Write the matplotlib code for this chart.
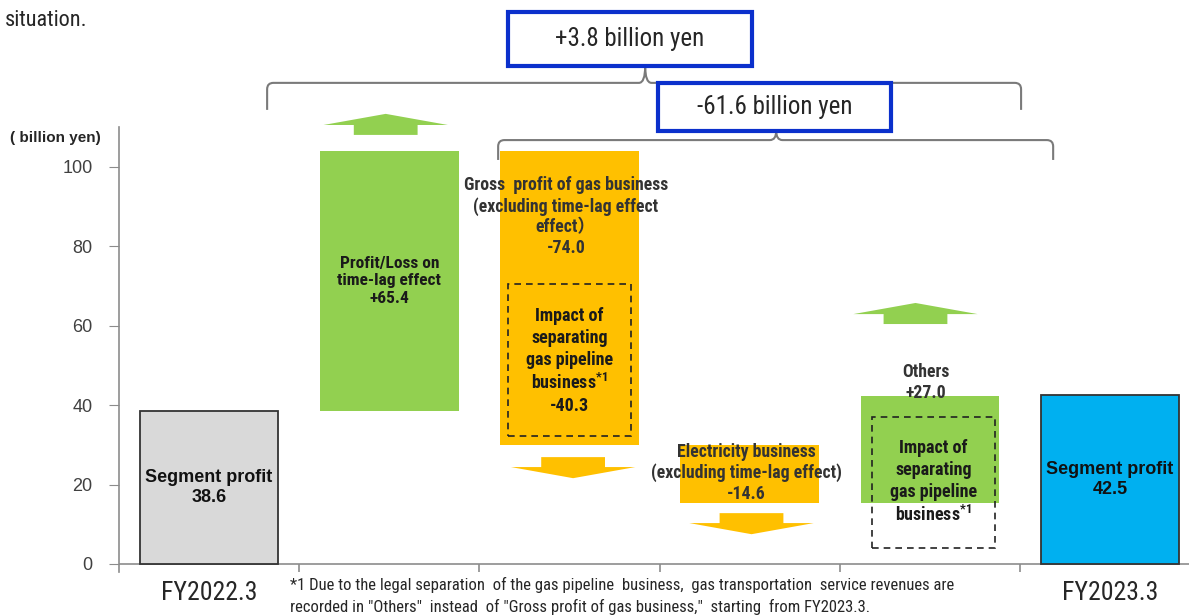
import matplotlib.pyplot as plt
from matplotlib.patches import Rectangle, Polygon, PathPatch
from matplotlib.path import Path
import numpy as np

plt.rcParams['mathtext.default'] = 'regular'

NARROW = ['Roboto Condensed', 'Noto Sans CJK JP', 'DejaVu Sans']
REG = ['Liberation Sans', 'DejaVu Sans']

# --- data (billion yen) ---
start_label = "FY2022.3"
end_label = "FY2023.3"
start_value = 38.6
end_value = 42.5
changes = [65.4, -74.0, -14.6, 27.0]
change_colors = ['#92d050', '#ffc000', '#ffc000', '#92d050']
pipeline_impact = -40.3
total_diff = "+3.8 billion yen"
sub_diff = "-61.6 billion yen"
yticks = [0, 20, 40, 60, 80, 100]

# waterfall bottoms
bottoms = []
level = start_value
for c in changes:
    bottoms.append(min(level, level + c))
    level += c

# --- figure: axes spans full height, y=0 sits at pixel row 564 ---
W, H = 1189, 615
PX_Y = 3.973          # pixels per billion yen
PX_X = 180.2          # pixels per category
fig = plt.figure(figsize=(W / 100, H / 100), dpi=100)
ax = fig.add_axes([119 / W, 0, 1 - 119 / W, 1])
ax.set_ylim(-(H - 564) / PX_Y, 564 / PX_Y)
ax.set_xlim(-0.5, -0.5 + (W - 119) / PX_X)

for s in ['top', 'right', 'bottom']:
    ax.spines[s].set_visible(False)
ax.spines['left'].set_bounds(-2, 110)
ax.spines['left'].set_color('#8c8c8c')
ax.spines['left'].set_linewidth(1.2)
ax.set_yticks(yticks)
ax.tick_params(axis='y', direction='out', length=7, color='#8c8c8c',
               labelsize=13, labelcolor='#404040', pad=12)
for lab in ax.get_yticklabels():
    lab.set_family(REG)
ax.set_xticks([])
ax.axhline(0, color='#8c8c8c', lw=1.2, zorder=1)
ax.vlines(np.arange(0.5, 5, 1), -2, 0, color='#8c8c8c', lw=1.2)

bw = 0.77
xs = np.arange(6)

# totals
ax.bar(xs[0], start_value, bw, color='#d9d9d9', edgecolor='#333333', lw=1.3, zorder=2)
ax.bar(xs[5], end_value, bw, color='#00b0f0', edgecolor='#333333', lw=1.3, zorder=2)
# changes
ax.bar(xs[1:5], np.abs(changes), bw, bottom=bottoms, color=change_colors, zorder=2)

# direction arrows next to each change bar
arrow_gap = [4.0, 3.1, 2.6, 18.0]
arrow_dx = [-0.02, 0.02, 0.01, -0.08]
hw, sw, shaft, head = 0.345, 0.177, 2.5, 2.8
for i, c in enumerate(changes):
    x = xs[i + 1] + arrow_dx[i]
    if c > 0:
        y0 = bottoms[i] + c + arrow_gap[i]
        sgn = 1
    else:
        y0 = bottoms[i] - arrow_gap[i]
        sgn = -1
    y1 = y0 + sgn * shaft
    y2 = y1 + sgn * head
    pts = [(x - sw, y0), (x + sw, y0), (x + sw, y1), (x + hw, y1),
           (x, y2), (x - hw, y1), (x - sw, y1)]
    ax.add_patch(Polygon(pts, closed=True, color=change_colors[i], lw=0, zorder=2))

# dashed boxes for the pipeline separation impact
for cx, ylo, yhi in [(2.0, 32.2, 70.5), (4.02, 4.0, 37.0)]:
    ax.add_patch(Rectangle((cx - 0.34, ylo), 0.68, yhi - ylo, fill=False,
                           ls=(0, (4, 3)), lw=1.2, ec='#222222', zorder=3))

# bar labels
for x, v in [(xs[0], start_value), (xs[5], end_value)]:
    ax.text(x, v / 2, f"Segment profit\n{v:.1f}", ha='center', va='center',
            fontsize=13, fontweight='bold', family=REG, color='#111111',
            linespacing=1.25, zorder=4)

lab_kw = dict(ha='center', va='center', fontsize=12.5, fontweight='bold', family=NARROW,
              color='#1a1a1a', linespacing=1.2, zorder=4)
grey_kw = {**lab_kw, 'color': '#333333', 'fontsize': 12.8, 'linespacing': 1.2}
box_kw = {**lab_kw, 'fontsize': 13, 'linespacing': 1.27}
ax.text(xs[1], bottoms[0] + changes[0] / 2,
        f"Profit/Loss on\ntime-lag effect\n+{changes[0]:.1f}", **lab_kw)
ax.text(1.98, 87.4, "Gross  profit of gas business\n(excluding time-lag effect\neffect）\n"
        f"{changes[1]:.1f}", **grey_kw)
ax.text(2.0, 51.1, f"Impact of\nseparating\ngas pipeline\nbusiness$^{{*1}}$\n{pipeline_impact:.1f}",
        **box_kw)
ax.text(2.98, 22.9, f"Electricity business\n(excluding time-lag effect)\n{changes[2]:.1f}",
        **grey_kw)
ax.text(3.98, 45.6, f"Others\n+{changes[3]:.1f}", **grey_kw)
ax.text(4.02, 20.6, "Impact of\nseparating\ngas pipeline\nbusiness$^{*1}$", **box_kw)

# category labels
for x, lab in [(xs[0], start_label), (xs[5], end_label)]:
    ax.text(x, -7.4, lab, ha='center', va='center', fontsize=18.5,
            family=NARROW, color='#262626')

# footnote
ax.text(0.45, -3.3, "*1 Due to the legal separation  of the gas pipeline  business,  gas transportation  "
        "service revenues are\nrecorded in \"Others\"  instead  of \"Gross profit of gas business,\"  "
        "starting  from FY2023.3.", ha='left', va='top', fontsize=12, family=NARROW,
        color='#262626', linespacing=1.45)

ax.text(-0.5 - 109 / PX_X, 107.2, "( billion yen)", ha='left', va='center', fontsize=11,
        fontweight='bold', family=REG, color='#262626')
fig.text(5 / W, 1 - 20 / H, "situation.", ha='left', va='center', fontsize=16,
         family=NARROW, color='#262626')


def brace(x0, x1, xm, y, yend, ytip, rx=0.035, ry=1.6):
    verts = [(x0, yend), (x0, y - ry), (x0, y), (x0 + rx, y),
             (xm - rx, y), (xm, y), (xm, ytip), (xm, y), (xm + rx, y),
             (x1 - rx, y), (x1, y), (x1, y - ry), (x1, yend)]
    codes = [Path.MOVETO, Path.LINETO, Path.CURVE3, Path.CURVE3,
             Path.LINETO, Path.CURVE3, Path.CURVE3, Path.CURVE3, Path.CURVE3,
             Path.LINETO, Path.CURVE3, Path.CURVE3, Path.LINETO]
    ax.add_patch(PathPatch(Path(verts, codes), fill=False, ec='#7a7a7a', lw=1.5,
                           zorder=1, clip_on=False))


brace(0.322, 4.506, 2.42, 121.1, 114.3, 125.3)
brace(1.604, 4.684, 3.147, 106.7, 101.7, 109.0)

# difference boxes
for (bx0, bx1, by0, by1, txt) in [(1.659, 3.013, 125.3, 138.9, total_diff),
                                  (2.492, 3.785, 109.0, 121.1, sub_diff)]:
    ax.add_patch(Rectangle((bx0, by0), bx1 - bx0, by1 - by0, fc='white', ec='#0b30cc',
                           lw=3, zorder=5))
    ax.text((bx0 + bx1) / 2, (by0 + by1) / 2, txt, ha='center', va='center', fontsize=18,
            family=NARROW, color='#262626', zorder=6)

fig.savefig('out.png', dpi=100)
